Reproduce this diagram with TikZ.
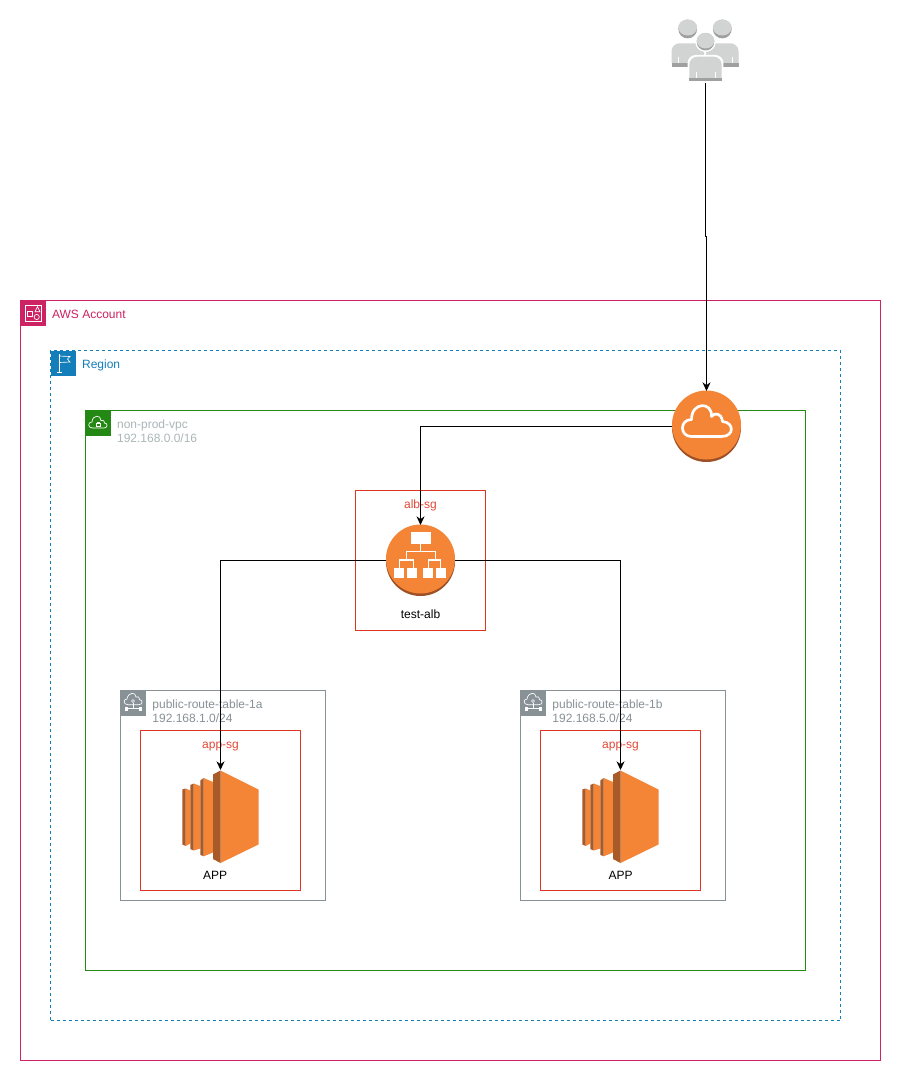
\documentclass[tikz,border=0pt]{standalone}
\usepackage{fontspec}
\setmainfont{Liberation Sans}
\usetikzlibrary{arrows.meta,positioning}

\definecolor{acctpink}{HTML}{CD2264}
\definecolor{regionblue}{HTML}{147EBA}
\definecolor{vpcgreen}{HTML}{248814}
\definecolor{vpctext}{HTML}{AAB7B8}
\definecolor{subnetgray}{HTML}{879196}
\definecolor{sgred}{HTML}{DD3522}
\definecolor{awsorange}{HTML}{F58536}
\definecolor{awsbrown}{HTML}{9D5025}
\definecolor{ec2dark}{HTML}{A85A28}
\definecolor{peoplelight}{HTML}{D2D3D3}
\definecolor{peopledark}{HTML}{A0A0A0}

\begin{document}
\begin{tikzpicture}[
    x=0.75pt,
    y=-0.75pt,
    container/.style={
        rectangle,
        draw,
        line width=0.75pt,
        inner sep=0pt,
        outer sep=0pt
    },
    tag/.style={
        rectangle,
        minimum size=18.75pt,
        inner sep=0pt,
        outer sep=0pt,
        anchor=north west
    },
    grouplabel/.style={
        font=\fontsize{9}{10.5}\selectfont,
        align=left,
        inner sep=0pt
    },
    sglabel/.style={
        font=\fontsize{9}{10.5}\selectfont,
        text=sgred!90!white,
        text height=6.5pt,
        text depth=2pt,
        inner sep=0pt
    },
    iconlabel/.style={
        font=\fontsize{9}{10.5}\selectfont,
        text=black,
        text height=6.5pt,
        text depth=2pt,
        inner sep=0pt
    },
    anchorbox/.style={
        rectangle,
        inner sep=0pt,
        outer sep=0pt
    },
    arrow/.style={
        ->,
        >={Stealth[length=6.5pt,width=6pt]},
        line width=0.75pt,
        black
    },
    glyph/.style={
        draw=white,
        line width=0.5pt,
        fill=none
    },
    pics/disc/.style={code={
        \fill[awsbrown] (0,1) circle[radius=34.5];
        \fill[awsorange] (0,-1.5) circle[radius=34.5];
    }},
    pics/cloudicon/.style={code={
        \draw[white, line width=2pt, line join=round]
            (-15,10) .. controls (-27,10) and (-27,-7) .. (-15,-7)
            .. controls (-15,-25) and (6,-25) .. (5,-10)
            .. controls (8,-14) and (15,-14) .. (16,-5)
            .. controls (28,-4) and (28,10) .. (15,10) -- cycle;
    }},
    pics/albicon/.style={code={
        \fill[white] (-10,-29) rectangle (10.3,-17);
        \fill[white] (-26.2,7.2) rectangle (-16.2,17.2);
        \fill[white] (-13.2,7.2) rectangle (-3.2,17.2);
        \fill[white] (2.8,7.2) rectangle (12.8,17.2);
        \fill[white] (15.5,7.2) rectangle (25.5,17.2);
        \draw[white, line width=1pt] (0,-17) -- (0,-9);
        \draw[white, line width=1pt] (-7,7.2) |- (-21,-0.5) -- (-21,7.2);
        \draw[white, line width=1pt] (-14,-0.5) |- (15,-9) -- (15,-0.5);
        \draw[white, line width=1pt] (8,7.2) |- (20,-0.5) -- (20,7.2);
    }},
    pics/ec2icon/.style={code={
        % blades, back to front
        \fill[awsorange] (-34.8,-28) -- (-30.2,-26) -- (-30.2,27) -- (-34.8,29.5) -- cycle;
        \fill[ec2dark] (-38.2,-27) -- (-34.8,-28) -- (-34.8,29.5) -- (-38.2,28) -- cycle;
        \fill[awsorange] (-26.8,-33) -- (-20.2,-30.5) -- (-20.2,32) -- (-26.8,34) -- cycle;
        \fill[ec2dark] (-30.2,-31.5) -- (-26.8,-33) -- (-26.8,34) -- (-30.2,32.5) -- cycle;
        \fill[awsorange] (-16.8,-38.5) -- (-7.5,-34.5) -- (-7.5,36) -- (-16.8,39.8) -- cycle;
        \fill[ec2dark] (-20.2,-36) -- (-16.8,-38.5) -- (-16.8,39.8) -- (-20.2,38.2) -- cycle;
        \fill[awsorange] (0,-46) -- (38,-27) -- (38,28) -- (0,46.5) -- cycle;
        \fill[ec2dark] (-7.5,-42) -- (0,-46) -- (0,46.5) -- (-7.5,42.5) -- cycle;
    }},
    pics/usersicon/.style={code={
        % back row
        \fill[peopledark] (-17.3,-23) circle[radius=9.4];
        \fill[peopledark] (17.3,-23) circle[radius=9.4];
        \fill[peoplelight] (-17.3,-24.5) ellipse[x radius=9.4, y radius=8];
        \fill[peoplelight] (17.3,-24.5) ellipse[x radius=9.4, y radius=8];
        \fill[peoplelight] (-33.5,11) [rounded corners=6pt] -- (-33.5,-8.7) -- (-1,-8.7) [sharp corners] -- (-1,11) -- cycle;
        \fill[peoplelight] (33.5,11) [rounded corners=6pt] -- (33.5,-8.7) -- (1,-8.7) [sharp corners] -- (1,11) -- cycle;
        \fill[peopledark] (-33.5,11) rectangle (-1,15);
        \fill[peopledark] (33.5,11) rectangle (1,15);
        \draw[white, line width=0.75pt] (-27,4.7) -- (-27,11) (27,4.7) -- (27,11);
        % front person
        \fill[white, rounded corners=6pt] (-17.4,36) -- (-17.4,3) -- (18.4,3) -- (18.4,36) -- cycle;
        \fill[white] (0.5,-10.3) circle[radius=10.3];
        \fill[peopledark] (0.5,-10.3) circle[radius=8.8];
        \fill[peoplelight] (0.5,-11.3) ellipse[x radius=8.8, y radius=7.8];
        \fill[peoplelight] (-15.7,26) [rounded corners=6pt] -- (-15.7,4.7) -- (16.7,4.7) [sharp corners] -- (16.7,26) -- cycle;
        \fill[peopledark] (-15.7,26) rectangle (16.7,29.5);
        \draw[white, line width=0.75pt] (-9,20) -- (-9,26) (10,20) -- (10,26);
    }},
    pics/accticon/.style={code={
        \draw[glyph] (-8,-8) rectangle (8,8);
        \draw[glyph] (-6,-2) rectangle (-1,3.5);
        \draw[glyph] (4.5,-6.5) -- (7,-1.2) -- (2,-1.2) -- cycle;
        \draw[glyph] (3.7,4) circle[radius=2.6];
    }},
    pics/regionicon/.style={code={
        \draw[glyph] (-4,-9) -- (-4,9) (-6.5,9) -- (-1.5,9);
        \draw[glyph] (-4,-7) -- (7,-6.5) -- (4.5,-4) -- (7,-1) -- (-4,-0.5);
    }},
    pics/lockicon/.style={code={
        \draw[glyph] (-5.5,5) .. controls (-10.5,5) and (-10.5,-1) .. (-6,-1)
            .. controls (-5.5,-8.5) and (3,-8.5) .. (3,-2.5)
            .. controls (5,-3.5) and (7,-2) .. (6.5,0)
            .. controls (10,0) and (10,5) .. (6,5) -- cycle;
        \draw[glyph] (-2,0.5) rectangle (2,3.5);
        \draw[glyph] (-1,0.5) -- (-1,-1) -- (1,-1) -- (1,0.5);
    }},
    pics/subneticon/.style={code={
        \draw[glyph] (-5,1.7) .. controls (-10,1.7) and (-10,-4) .. (-6,-4)
            .. controls (-5,-11) and (3,-11.5) .. (3,-6)
            .. controls (5,-7) and (7,-6) .. (6.5,-3.5)
            .. controls (10,-3) and (10,1.7) .. (6,1.7) -- cycle;
        \draw[glyph] (0,-2) circle[radius=1.5];
        \draw[glyph] (0,-0.5) -- (0,5.7);
        \draw[glyph] (-6,5.7) -- (7,5.7);
        \draw[glyph, fill=white] (-7.5,4.5) rectangle (-5.5,7);
        \draw[glyph, fill=white] (6,4.5) rectangle (8,7);
    }}
]

\useasboundingbox (0,0) rectangle (901,1081);
\fill[white] (0,0) rectangle (901,1081);

% Containers
\node[container, draw=acctpink, minimum width=645pt, minimum height=570pt] (account) at (450.5,680.5) {};
\node[container, draw=regionblue, dashed, dash pattern=on 2.25pt off 2.25pt, minimum width=592.5pt, minimum height=502.5pt] (region) at (445.5,685.5) {};
\node[container, draw=vpcgreen, minimum width=540pt, minimum height=420pt] (vpc) at (445.5,690.5) {};
\node[container, draw=subnetgray, minimum width=153.75pt, minimum height=157.5pt] (subnetA) at (223,795.5) {};
\node[container, draw=subnetgray, minimum width=153.75pt, minimum height=157.5pt] (subnetB) at (623,795.5) {};
\node[container, draw=sgred, minimum width=97.5pt, minimum height=105pt] (albSg) at (420.5,560.5) {};
\node[container, draw=sgred, minimum width=120pt, minimum height=120pt] (appSgA) at (220.5,810.5) {};
\node[container, draw=sgred, minimum width=120pt, minimum height=120pt] (appSgB) at (620.5,810.5) {};

% Corner tags
\node[tag, fill=acctpink] (acctTag) at (account.north west) {};
\node[tag, fill=regionblue] (regionTag) at (region.north west) {};
\node[tag, fill=vpcgreen] (vpcTag) at (vpc.north west) {};
\node[tag, fill=subnetgray] (subnetTagA) at (subnetA.north west) {};
\node[tag, fill=subnetgray] (subnetTagB) at (subnetB.north west) {};
\pic at (acctTag.center) {accticon};
\pic at (regionTag.center) {regionicon};
\pic at (vpcTag.center) {lockicon};
\pic at (subnetTagA.center) {subneticon};
\pic at (subnetTagB.center) {subneticon};

% Group labels
\node[grouplabel, text=acctpink, below right=6.75pt and 4.75pt of acctTag.north east] (acctLabel) {AWS Account};
\node[grouplabel, text=regionblue, below right=6.75pt and 4.75pt of regionTag.north east] (regionLabel) {Region};
\node[grouplabel, text=vpctext, below right=6.5pt and 4.75pt of vpcTag.north east] (vpcLabel) {non-prod-vpc\\192.168.0.0/16};
\node[grouplabel, text=subnetgray, below right=6.5pt and 5pt of subnetTagA.north east] (subnetLabelA) {public-route-table-1a\\192.168.1.0/24};
\node[grouplabel, text=subnetgray, below right=6.5pt and 5pt of subnetTagB.north east] (subnetLabelB) {public-route-table-1b\\192.168.5.0/24};

% Icons
\node[anchorbox, minimum width=50pt, minimum height=47.25pt] (users) at (705,52) {};
\pic at (users.center) {usersicon};
\node[anchorbox, minimum width=51.75pt, minimum height=53.25pt] (igw) at (706.5,426.5) {};
\pic at (igw.center) {disc};
\pic at (igw.center) {cloudicon};
\node[anchorbox, minimum width=51.75pt, minimum height=53.25pt] (alb) at (420.5,560.5) {};
\pic at (alb.center) {disc};
\pic at (alb.center) {albicon};
\node[anchorbox, minimum width=57.75pt, minimum height=69.75pt] (appA) at (220.5,816.5) {};
\pic at (appA.center) {ec2icon};
\node[anchorbox, minimum width=57.75pt, minimum height=69.75pt] (appB) at (620.5,816.5) {};
\pic at (appB.center) {ec2icon};

% Icon labels
\node[sglabel, below=7pt of albSg.north] (albSgLabel) {alb-sg};
\node[sglabel, below=7pt of appSgA.north] (appSgLabelA) {app-sg};
\node[sglabel, below=7pt of appSgB.north] (appSgLabelB) {app-sg};
\node[iconlabel, below=10.5pt of alb] (albLabel) {test-alb};
\node[iconlabel, below=6pt of appA, xshift=-4pt] (appLabelA) {APP};
\node[iconlabel, below=6pt of appB] (appLabelB) {APP};

% Arrows
\coordinate (usersBend) at (706.5,236.5);
\draw[arrow] (users.south) |- (usersBend) -- (igw.north);
\draw[arrow] (igw.west) -| (alb.north);
\draw[arrow] (alb.west) -| (appA.north);
\draw[arrow] (alb.east) -| (appB.north);

\end{tikzpicture}
\end{document}
